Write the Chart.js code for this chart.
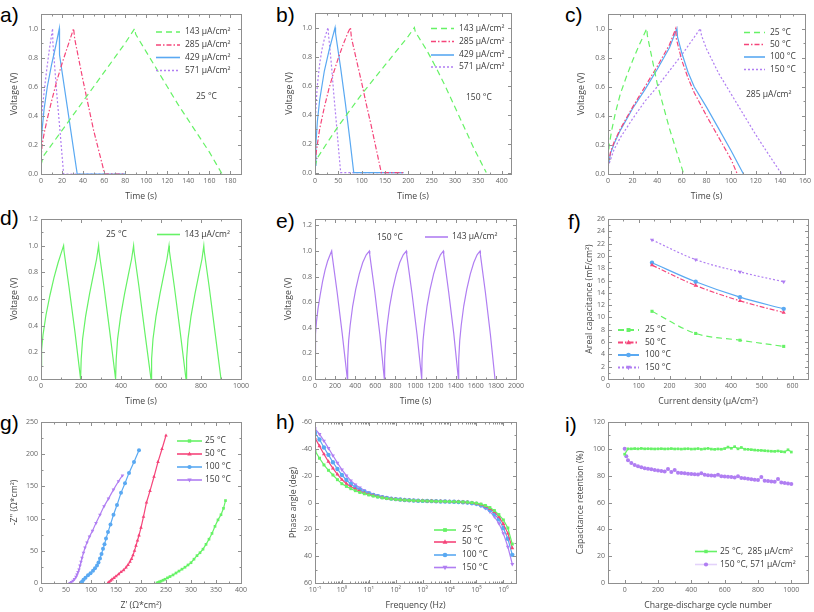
<!DOCTYPE html>
<html>
<head>
<meta charset="utf-8">
<script src="https://cdn.jsdelivr.net/npm/chart.js@4.4.1/dist/chart.umd.min.js"></script>
<style>
body { margin: 0; background: #fff; }
#fig { position: relative; width: 814px; height: 612px; overflow: hidden; }
#fig canvas { position: absolute; }
.lbl { position: absolute; font: 21px "Liberation Sans", Arial, sans-serif; line-height: 21px; color: #000; }
</style>
</head>
<body>
<div id="fig">
  <div class="lbl" style="left:0px;top:4px">a)</div>
  <div class="lbl" style="left:276px;top:4px">b)</div>
  <div class="lbl" style="left:565px;top:4px">c)</div>
  <div class="lbl" style="left:0px;top:207px">d)</div>
  <div class="lbl" style="left:276px;top:210px">e)</div>
  <div class="lbl" style="left:568px;top:211px">f)</div>
  <div class="lbl" style="left:0px;top:412px">g)</div>
  <div class="lbl" style="left:276px;top:411px">h)</div>
  <div class="lbl" style="left:565px;top:414px">i)</div>
</div>
<script>
// ---- a) 25 °C, different current densities
const a143t = [0, 2, 10, 20, 30, 40, 50, 60, 70, 80, 89, 90, 100, 110, 120, 130, 140, 150, 160, 172];
const a143v = [0.06, 0.12, 0.2, 0.3, 0.4, 0.5, 0.6, 0.7, 0.8, 0.9, 1.0, 0.96, 0.84, 0.72, 0.6, 0.48, 0.37, 0.26, 0.15, 0];
const a285t = [0, 1, 3, 6, 10, 15, 20, 25, 31, 32, 40, 50, 60.5, 80];
const a285v = [0.1, 0.2, 0.28, 0.38, 0.5, 0.64, 0.76, 0.87, 1.0, 0.93, 0.64, 0.3, 0, 0];
const a429t = [0, 1, 3, 6, 10, 14, 17.4, 17.6, 25, 34.4, 80];
const a429v = [0.15, 0.3, 0.45, 0.6, 0.75, 0.88, 1.0, 0.82, 0.46, 0, 0];
const a571t = [0, 2, 4, 6, 8, 11, 11.3, 15, 18, 21.5, 80];
const a571v = [0.35, 0.5, 0.63, 0.75, 0.86, 1.0, 0.9, 0.55, 0.3, 0, 0];

// ---- b) 150 °C
const b143t = [0, 5, 25, 50, 75, 100, 125, 150, 175, 200, 213, 215, 240, 260, 280, 300, 320, 340, 367];
const b143v = [0.04, 0.1, 0.2, 0.32, 0.43, 0.54, 0.64, 0.74, 0.84, 0.94, 1.0, 0.97, 0.84, 0.72, 0.59, 0.45, 0.31, 0.17, 0];
const b285t = [0, 3, 10, 20, 30, 40, 50, 60, 70, 76, 78, 90, 100, 110, 120, 130, 142, 190];
const b285v = [0.05, 0.15, 0.3, 0.45, 0.58, 0.69, 0.79, 0.88, 0.96, 1.0, 0.93, 0.76, 0.62, 0.47, 0.33, 0.18, 0, 0];
const b429t = [0, 2, 5, 10, 20, 30, 43, 44, 55, 65, 75, 83, 190];
const b429v = [0.05, 0.2, 0.35, 0.5, 0.7, 0.84, 1.0, 0.96, 0.72, 0.48, 0.22, 0, 0];
const b571t = [0, 2, 5, 10, 15, 20, 28, 29, 35, 40, 45, 50, 55, 190];
const b571v = [0.3, 0.45, 0.6, 0.75, 0.85, 0.92, 1.0, 0.95, 0.75, 0.55, 0.37, 0.18, 0, 0];

// ---- c) 285 µA/cm², temperatures
const c25t = [0, 1, 3, 6, 10, 15, 20, 25, 31.5, 32, 40, 50, 61.5];
const c25v = [0.1, 0.2, 0.3, 0.42, 0.55, 0.67, 0.78, 0.88, 1.0, 0.95, 0.62, 0.31, 0];
const c50t = [0, 2, 5, 10, 20, 30, 40, 50, 55, 55.5, 60, 65, 70, 80, 90, 100, 105];
const c50v = [0.05, 0.15, 0.22, 0.31, 0.46, 0.6, 0.74, 0.89, 1.0, 0.93, 0.78, 0.66, 0.56, 0.4, 0.25, 0.1, 0];
const c100t = [0, 2, 5, 10, 20, 30, 40, 50, 56, 56.5, 60, 65, 70, 80, 90, 100, 110];
const c100v = [0.05, 0.14, 0.21, 0.3, 0.45, 0.58, 0.72, 0.87, 1.0, 0.94, 0.83, 0.7, 0.6, 0.46, 0.31, 0.16, 0];
const c150t = [0, 5, 10, 20, 30, 40, 50, 60, 70, 75, 76, 80, 90, 100, 110, 120, 130, 141];
const c150v = [0.05, 0.17, 0.25, 0.38, 0.5, 0.6, 0.71, 0.82, 0.94, 1.0, 0.95, 0.86, 0.69, 0.55, 0.41, 0.27, 0.14, 0];

// ---- d) 5 cycles, 25 °C
const dTime = [0, 3, 10, 25, 45, 65, 85, 100, 113, 115, 140, 170, 198,
  201, 208, 223, 243, 263, 278, 288, 290, 315, 345, 373,
  376, 383, 398, 418, 438, 453, 463, 465, 490, 520, 550,
  553, 560, 575, 595, 615, 630, 640, 642, 667, 697, 725,
  728, 735, 750, 770, 790, 805, 814, 816, 841, 871, 900];
const dVolt = [0.1, 0.22, 0.33, 0.48, 0.63, 0.76, 0.87, 0.94, 1.0, 0.96, 0.69, 0.35, 0,
  0.15, 0.3, 0.47, 0.64, 0.79, 0.9, 1.0, 0.96, 0.69, 0.34, 0,
  0.15, 0.3, 0.47, 0.64, 0.79, 0.9, 1.0, 0.96, 0.69, 0.34, 0,
  0.15, 0.3, 0.47, 0.64, 0.79, 0.9, 1.0, 0.96, 0.69, 0.34, 0,
  0.15, 0.3, 0.47, 0.64, 0.79, 0.9, 1.0, 0.96, 0.69, 0.34, 0];

// ---- e) 5 cycles, 150 °C
const eTime = [0, 5, 15, 30, 50, 75, 100, 125, 150, 166, 170, 220, 270, 322,
  325, 335, 350, 375, 405, 440, 475, 510, 541, 545, 595, 645, 690,
  693, 703, 718, 743, 773, 808, 843, 878, 909, 913, 965, 1015, 1062,
  1065, 1075, 1090, 1115, 1145, 1180, 1215, 1248, 1277, 1281, 1330, 1380, 1427,
  1430, 1440, 1455, 1480, 1510, 1545, 1580, 1613, 1642, 1646, 1695, 1745, 1791];
const eVolt = [0.2, 0.35, 0.45, 0.55, 0.65, 0.76, 0.85, 0.92, 0.97, 1.0, 0.97, 0.68, 0.36, 0,
  0.15, 0.3, 0.42, 0.57, 0.7, 0.82, 0.91, 0.97, 1.0, 0.97, 0.68, 0.35, 0,
  0.15, 0.3, 0.42, 0.57, 0.7, 0.82, 0.91, 0.97, 1.0, 0.97, 0.67, 0.35, 0,
  0.15, 0.3, 0.42, 0.57, 0.7, 0.82, 0.91, 0.97, 1.0, 0.97, 0.68, 0.36, 0,
  0.15, 0.3, 0.42, 0.57, 0.7, 0.82, 0.91, 0.97, 1.0, 0.97, 0.68, 0.35, 0];

// ---- f) areal capacitance
const fCurrent = [143, 285, 429, 571];
const f25 = [11.0, 7.4, 6.3, 5.3];
const f50 = [18.5, 15.2, 12.7, 10.8];
const f100 = [18.9, 15.8, 13.3, 11.4];
const f150 = [22.6, 19.4, 17.4, 15.8];

// ---- g) Nyquist
const g25x = [232, 234, 237, 240, 244, 248, 253, 258, 264, 270, 276, 282, 288, 294, 300, 306, 312, 318, 324, 330, 336, 342, 348, 354, 360, 365, 369];
const g25y = [0, 0.8, 1.8, 2.8, 4.3, 5.8, 8, 10, 12.5, 15.5, 18.5, 21.5, 24.5, 28, 31.5, 37, 42.5, 47, 52.5, 60, 68, 77, 88, 98, 106, 116, 128];
const g50x = [134, 136, 139, 142, 146, 150, 155, 160, 165, 170, 174, 178, 181, 184, 187, 190, 193, 196, 200, 205, 211, 218, 226, 234, 242, 250];
const g50y = [0, 1.5, 3.5, 5.5, 8, 10.5, 13.5, 17, 20, 24, 28, 33, 37.5, 43, 50, 58, 66, 74, 86, 103, 125, 143, 165, 188, 208, 229];
const g100x = [80, 82, 85, 89, 94, 99, 104, 108, 112, 115, 118, 121, 124, 127, 130, 134, 139, 145, 152, 160, 168, 176, 186, 196];
const g100y = [0, 2, 5, 8, 12, 15, 19, 23, 27, 32, 38, 45, 53, 60, 69, 79, 91, 106, 121, 140, 155, 171, 188, 206];
const g150x = [58, 61, 64, 67, 70, 72, 74, 76, 78, 80, 82, 85, 88, 92, 97, 103, 110, 118, 126, 135, 145, 155, 163];
const g150y = [0, 1.5, 3.5, 6, 9.5, 13, 17, 21, 27, 33, 39, 47, 55, 63, 72, 81, 93, 106, 119, 131, 145, 158, 167];

// ---- h) Bode phase
const hFreq = [0.1, 0.147, 0.215, 0.316, 0.464, 0.681, 1, 1.47, 2.15, 3.16, 4.64, 6.81,
  10, 14.7, 21.5, 31.6, 46.4, 68.1, 100, 147, 215, 316, 464, 681,
  1e3, 1.47e3, 2.15e3, 3.16e3, 4.64e3, 6.81e3, 1e4, 1.47e4, 2.15e4, 3.16e4, 4.64e4, 6.81e4,
  1e5, 1.47e5, 2.15e5, 3.16e5, 4.64e5, 6.81e5, 1e6, 1.47e6, 2.15e6];
const h25 = [-38.5, -33, -28, -24, -20.5, -17, -14, -12, -10.3, -8.8, -7.5, -6.5,
  -5.6, -4.8, -4.1, -3.5, -3.0, -2.6, -2.3, -2.0, -1.8, -1.6, -1.4, -1.3,
  -1.2, -1.1, -1.0, -0.9, -0.85, -0.8, -0.7, -0.6, -0.5, -0.4, -0.2, 0.1,
  0.5, 1.2, 2.2, 3.8, 6, 9, 13, 19, 31];
const h50 = [-48, -42, -36, -30.5, -25.5, -21, -17, -14, -11.8, -10, -8.4, -7.1,
  -6.0, -5.1, -4.3, -3.7, -3.1, -2.7, -2.4, -2.1, -1.8, -1.6, -1.4, -1.3,
  -1.2, -1.1, -1.0, -0.9, -0.85, -0.8, -0.7, -0.6, -0.45, -0.3, -0.1, 0.3,
  0.8, 1.6, 2.8, 4.5, 7, 10.5, 16, 23, 34];
const h100 = [-52, -47, -41, -35.5, -30, -25, -20.5, -16.8, -13.8, -11.4, -9.5, -8,
  -6.7, -5.6, -4.7, -4.0, -3.4, -2.9, -2.5, -2.2, -1.9, -1.7, -1.5, -1.3,
  -1.2, -1.1, -1.0, -0.9, -0.8, -0.75, -0.65, -0.55, -0.4, -0.2, 0, 0.5,
  1, 2, 3.5, 5.5, 8.5, 12.5, 19, 27, 39];
const h150 = [-55, -51, -46, -40.5, -35, -29.5, -24.5, -20, -16.3, -13.3, -11, -9.1,
  -7.6, -6.3, -5.2, -4.4, -3.7, -3.1, -2.7, -2.3, -2.0, -1.8, -1.6, -1.4,
  -1.3, -1.2, -1.1, -1.0, -0.9, -0.8, -0.7, -0.55, -0.4, -0.15, 0.1, 0.7,
  1.3, 2.6, 4.3, 6.8, 10.5, 15.5, 23, 33, 46];

// ---- i) cycling retention
const iCycG = [0, 20, 40, 60, 80, 100, 120, 140, 160, 180, 200, 220, 240, 260, 280, 300, 320, 340, 360, 380,
  400, 420, 440, 460, 480, 500, 520, 540, 560, 580, 600, 620, 640, 660, 680, 700, 720, 740, 760, 780,
  800, 820, 840, 860, 880, 900, 920, 940, 960, 980, 1000];
const iRetG = [96, 100, 100, 100.2, 100, 100.3, 100, 100.1, 100, 99.9, 100, 100.1, 99.9, 100, 100.2, 99.9, 100, 99.8, 100, 100.1,
  99.8, 99.9, 100.2, 99.7, 100, 100.3, 99.8, 99.6, 99.9, 99.7, 100.2, 101.3, 100.4, 101.6, 100, 101, 99.7, 99.6, 99.4, 99.1,
  98.9, 98.8, 98.6, 98.4, 98.2, 98.1, 98.4, 97.9, 97.7, 99.3, 97.6];
const iCycV = [0, 10, 20, 40, 60, 80, 100, 120, 140, 160, 180, 200, 220, 240, 260, 280, 300, 320, 340, 360, 380,
  400, 420, 440, 460, 480, 500, 520, 540, 560, 580, 600, 620, 640, 660, 680, 700, 720, 740, 760, 780,
  800, 820, 840, 860, 880, 900, 920, 940, 960, 980, 1000];
const iRetV = [100, 94.5, 91.5, 89.5, 88, 87, 86.3, 85.6, 85.1, 84.7, 84.2, 83.8, 83.4, 83.1, 85, 82.7, 84.3, 82.2, 82, 81.8, 81.5,
  81.2, 81, 80.8, 81.8, 80.6, 80.3, 80.1, 79.9, 80.6, 79.6, 79.4, 79.2, 79, 78.7, 79.6, 78.3, 78, 77.7, 77.3, 77,
  76.7, 79, 76.3, 76, 75.7, 75.4, 77.5, 75, 74.6, 74.2, 73.8];

// ---- tick values
const ticksA = [0, 20, 40, 60, 80, 100, 120, 140, 160, 180];
const ticksB = [0, 50, 100, 150, 200, 250, 300, 350, 400];
const ticksC = [0, 20, 40, 60, 80, 100, 120, 140, 160];
const ticksD = [0, 200, 400, 600, 800, 1000];
const ticksE = [0, 200, 400, 600, 800, 1000, 1200, 1400, 1600, 1800, 2000];
const ticksF = [0, 100, 200, 300, 400, 500, 600];
const ticksG = [0, 50, 100, 150, 200, 250, 300, 350, 400];
const ticksH = [0.1, 1, 10, 100, 1e3, 1e4, 1e5, 1e6];
const ticksI = [0, 200, 400, 600, 800, 1000];
const voltTicks = [0, 0.2, 0.4, 0.6, 0.8, 1.0];
const voltTicks12 = [0, 0.2, 0.4, 0.6, 0.8, 1.0, 1.2];
const capTicks = [0, 2, 4, 6, 8, 10, 12, 14, 16, 18, 20, 22, 24, 26];
const zTicks = [0, 50, 100, 150, 200, 250];
const phaseTicks = [-60, -40, -20, 0, 20, 40, 60];
const retTicks = [0, 20, 40, 60, 80, 100, 120];

const G = '#66f266', P = '#f5457a', B = '#5aa9f2', V = '#b07ef2';
const DASH143 = [6, 4], DASH285 = [5, 2, 1.5, 2], DASH571 = [2, 2];
const FONT = '"Open Sans", sans-serif';
const TICK_SIZE = 7, TITLE_SIZE = 8.7, LEG_SIZE = 8.5;
Chart.defaults.font.family = FONT;

function series(label, xs, ys, color, dash, extra) {
  return Object.assign({
    label: label,
    data: xs.map((x, i) => ({ x: x, y: ys[i] })),
    showLine: true, borderColor: color, backgroundColor: color,
    borderWidth: 1.2, borderDash: dash, pointRadius: 0, pointBorderWidth: 0, tension: 0
  }, extra || {});
}

function drawMarker(ctx, style, rot, x, y, r, color) {
  ctx.fillStyle = color;
  ctx.beginPath();
  if (style === 'rect') {
    ctx.rect(x - r * 0.85, y - r * 0.85, r * 1.7, r * 1.7);
  } else if (style === 'triangle') {
    const s = rot ? -1 : 1;
    ctx.moveTo(x, y - s * r * 1.1);
    ctx.lineTo(x + r, y + s * r * 0.7);
    ctx.lineTo(x - r, y + s * r * 0.7);
    ctx.closePath();
  } else {
    ctx.arc(x, y, r, 0, Math.PI * 2);
  }
  ctx.fill();
}

const framePlugin = {
  id: 'frame',
  afterDatasetsDraw(chart) {
    const { ctx, chartArea: a, scales } = chart;
    ctx.save();
    ctx.strokeStyle = '#8f8f8f';
    ctx.lineWidth = 1;
    const l = Math.round(a.left) + 0.5, t = Math.round(a.top) + 0.5;
    const r = Math.round(a.right) + 0.5, b = Math.round(a.bottom) + 0.5;
    ctx.strokeRect(l, t, r - l, b - t);
    const marks = (s) => {
      const major = s.ticks.map(k => k.value);
      let minor = [];
      if (s.type === 'logarithmic') {
        for (let e = -2; e <= 7; e++) for (let k = 2; k <= 9; k++) minor.push(k * Math.pow(10, e));
      } else {
        const step = major[1] - major[0];
        for (let v = major[0] - step / 2; v <= major[major.length - 1] + step; v += step) minor.push(v);
      }
      minor = minor.filter(v => v >= Math.min(s.min, s.max) && v <= Math.max(s.min, s.max));
      return { major, minor };
    };
    ctx.beginPath();
    const mx = marks(scales.x);
    [[mx.major, 3.5], [mx.minor, 2]].forEach(([vals, len]) => vals.forEach(v => {
      const px = Math.round(scales.x.getPixelForValue(v)) + 0.5;
      ctx.moveTo(px, b); ctx.lineTo(px, b - len);
      ctx.moveTo(px, t); ctx.lineTo(px, t + len);
    }));
    const my = marks(scales.y);
    [[my.major, 3.5], [my.minor, 2]].forEach(([vals, len]) => vals.forEach(v => {
      const py = Math.round(scales.y.getPixelForValue(v)) + 0.5;
      ctx.moveTo(l, py); ctx.lineTo(l + len, py);
      ctx.moveTo(r, py); ctx.lineTo(r - len, py);
    }));
    ctx.stroke();
    ctx.restore();
  }
};

const legendPlugin = {
  id: 'panelLegend',
  afterDraw(chart, args, o) {
    if (!o || !o.ys) return;
    const ctx = chart.ctx;
    ctx.save();
    o.ys.forEach((yy, i) => {
      const ds = chart.data.datasets[i];
      const y = yy - o.oy, x1 = o.x1 - o.ox, x2 = o.x2 - o.ox;
      ctx.strokeStyle = ds.borderColor;
      ctx.lineWidth = o.lw || 1.6;
      ctx.setLineDash(ds.borderDash || []);
      ctx.beginPath(); ctx.moveTo(x1, y); ctx.lineTo(x2, y); ctx.stroke();
      ctx.setLineDash([]);
      if (ds.pointRadius > 0) {
        drawMarker(ctx, ds.pointStyle, ds.pointRotation, (x1 + x2) / 2, y, ds.pointRadius * 1.05, ds.backgroundColor);
      }
      ctx.fillStyle = '#3a3a3a';
      ctx.font = LEG_SIZE + 'px ' + FONT;
      ctx.textBaseline = 'middle';
      ctx.textAlign = 'left';
      ctx.fillText(ds.label, o.tx - o.ox, y);
    });
    ctx.restore();
  }
};

const notesPlugin = {
  id: 'notes',
  afterDraw(chart, args, o) {
    if (!o || !o.items) return;
    const ctx = chart.ctx;
    ctx.save();
    ctx.fillStyle = '#3a3a3a';
    ctx.font = LEG_SIZE + 'px ' + FONT;
    ctx.textBaseline = 'middle';
    ctx.textAlign = 'left';
    o.items.forEach(n => ctx.fillText(n.text, n.x - o.ox, n.y - o.oy));
    ctx.restore();
  }
};

const fix1 = v => Number(v).toFixed(1);
const plain = v => String(v);
const SUP = { '-': '\u207B', '0': '\u2070', '1': '\u00B9', '2': '\u00B2', '3': '\u00B3', '4': '\u2074', '5': '\u2075', '6': '\u2076' };
const pow10 = v => '10' + String(Math.round(Math.log10(v))).split('').map(c => SUP[c]).join('');

function makePanel(p) {
  const [cx, cy, cw, ch] = p.cell;
  const [L, T, R, Bt] = p.plot;
  const cv = document.createElement('canvas');
  cv.width = cw; cv.height = ch;
  cv.style.left = cx + 'px'; cv.style.top = cy + 'px';
  cv.style.width = cw + 'px'; cv.style.height = ch + 'px';
  document.getElementById('fig').appendChild(cv);
  const lh = TITLE_SIZE * 1.2;
  const xo = p.x, yo = p.y;
  new Chart(cv, {
    type: 'scatter',
    data: { datasets: p.datasets },
    options: {
      responsive: false, animation: false, events: [],
      layout: { padding: { left: 0, top: T - cy, right: cx + cw - R, bottom: 0 } },
      plugins: {
        legend: { display: false }, tooltip: { enabled: false },
        panelLegend: Object.assign({ ox: cx, oy: cy }, p.legend),
        notes: { ox: cx, oy: cy, items: p.notes || [] }
      },
      scales: {
        x: {
          type: xo.type || 'linear', min: xo.min, max: xo.max,
          afterBuildTicks: s => { s.ticks = xo.ticks.map(v => ({ value: v })); },
          afterFit: s => { s.height = cy + ch - Bt; },
          ticks: { autoSkip: false, maxRotation: 0, minRotation: 0, padding: 3, font: { size: TICK_SIZE }, color: '#666', callback: xo.fmt },
          grid: { display: false, drawTicks: false }, border: { display: false },
          title: { display: true, text: xo.title, color: '#444', font: { size: TITLE_SIZE }, padding: { top: 0, bottom: cy + ch - xo.titleY - lh / 2 } }
        },
        y: {
          type: 'linear', min: yo.min, max: yo.max, reverse: !!yo.reverse,
          afterBuildTicks: s => { s.ticks = yo.ticks.map(v => ({ value: v })); },
          afterFit: s => { s.width = L - cx; },
          ticks: { autoSkip: false, padding: 3, font: { size: TICK_SIZE }, color: '#666', callback: yo.fmt },
          grid: { display: false, drawTicks: false }, border: { display: false },
          title: { display: true, text: yo.title, color: '#444', font: { size: TITLE_SIZE }, padding: { top: yo.titleX - cx - lh / 2, bottom: 0 } }
        }
      }
    },
    plugins: [framePlugin, legendPlugin, notesPlugin]
  });
}

const UA = ' \u00B5A/cm\u00B2';
const tempMarks = (style, rot, r) => ({ pointRadius: r, pointStyle: style, pointRotation: rot ? 180 : 0 });

// a)
makePanel({
  cell: [0, 0, 271, 205], plot: [41, 14, 241, 174],
  x: { min: 0, max: 190, ticks: ticksA, fmt: plain, title: 'Time (s)', titleY: 197 },
  y: { min: 0, max: 1.1, ticks: voltTicks, fmt: fix1, title: 'Voltage (V)', titleX: 15 },
  datasets: [
    series('143' + UA, a143t, a143v, G, DASH143),
    series('285' + UA, a285t, a285v, P, DASH285),
    series('429' + UA, a429t, a429v, B, []),
    series('571' + UA, a571t, a571v, V, DASH571)
  ],
  legend: { x1: 156, x2: 180, tx: 185, ys: [32, 45, 57.5, 70.5] },
  notes: [{ text: '25 \u00B0C', x: 196, y: 97 }]
});

// b)
makePanel({
  cell: [271, 0, 271, 205], plot: [315, 13, 511, 174],
  x: { min: 0, max: 420, ticks: ticksB, fmt: plain, title: 'Time (s)', titleY: 197 },
  y: { min: -0.01, max: 1.1, ticks: voltTicks, fmt: fix1, title: 'Voltage (V)', titleX: 290 },
  datasets: [
    series('143' + UA, b143t, b143v, G, DASH143),
    series('285' + UA, b285t, b285v, P, DASH285),
    series('429' + UA, b429t, b429v, B, []),
    series('571' + UA, b571t, b571v, V, DASH571)
  ],
  legend: { x1: 431, x2: 454, tx: 459, ys: [28.5, 41.5, 55, 67] },
  notes: [{ text: '150 \u00B0C', x: 466, y: 98 }]
});

// c)
makePanel({
  cell: [542, 0, 272, 205], plot: [608, 14, 807, 174],
  x: { min: 0, max: 160, ticks: ticksC, fmt: plain, title: 'Time (s)', titleY: 197 },
  y: { min: 0, max: 1.1, ticks: voltTicks, fmt: fix1, title: 'Voltage (V)', titleX: 582 },
  datasets: [
    series('25 \u00B0C', c25t, c25v, G, DASH143),
    series('50 \u00B0C', c50t, c50v, P, DASH285),
    series('100 \u00B0C', c100t, c100v, B, []),
    series('150 \u00B0C', c150t, c150v, V, DASH571)
  ],
  legend: { x1: 744, x2: 765, tx: 770, ys: [32.5, 44.5, 57, 69.5] },
  notes: [{ text: '285' + UA, x: 746, y: 95 }]
});

// d)
makePanel({
  cell: [0, 205, 271, 205], plot: [41, 219, 241, 379],
  x: { min: 0, max: 1000, ticks: ticksD, fmt: plain, title: 'Time (s)', titleY: 402 },
  y: { min: 0, max: 1.2, ticks: voltTicks12, fmt: fix1, title: 'Voltage (V)', titleX: 15 },
  datasets: [series('143' + UA, dTime, dVolt, G, [])],
  legend: { x1: 157, x2: 180, tx: 184.5, ys: [234.5] },
  notes: [{ text: '25 \u00B0C', x: 106, y: 234.5 }]
});

// e)
makePanel({
  cell: [271, 205, 271, 205], plot: [315, 219, 516, 379],
  x: { min: 0, max: 2000, ticks: ticksE, fmt: plain, title: 'Time (s)', titleY: 402 },
  y: { min: 0, max: 1.25, ticks: voltTicks12, fmt: fix1, title: 'Voltage (V)', titleX: 289 },
  datasets: [series('143' + UA, eTime, eVolt, V, [])],
  legend: { x1: 425, x2: 448, tx: 452, ys: [237] },
  notes: [{ text: '150 \u00B0C', x: 377, y: 238 }]
});

// f)
makePanel({
  cell: [542, 205, 272, 205], plot: [608, 219, 808, 379],
  x: { min: 0, max: 650, ticks: ticksF, fmt: plain, title: 'Current density (\u00B5A/cm\u00B2)', titleY: 402 },
  y: { min: 0, max: 26, ticks: capTicks, fmt: plain, title: 'Areal capacitance (mF/cm\u00B2)', titleX: 590 },
  datasets: [
    series('25 \u00B0C', fCurrent, f25, G, DASH143, Object.assign({ tension: 0.35 }, tempMarks('rect', false, 2.2))),
    series('50 \u00B0C', fCurrent, f50, P, DASH285, Object.assign({ tension: 0.35 }, tempMarks('triangle', false, 2.4))),
    series('100 \u00B0C', fCurrent, f100, B, [], Object.assign({ tension: 0.35 }, tempMarks('circle', false, 2.2))),
    series('150 \u00B0C', fCurrent, f150, V, DASH571, Object.assign({ tension: 0.35 }, tempMarks('triangle', true, 2.4)))
  ],
  legend: { x1: 618, x2: 639, tx: 645, ys: [330, 342.5, 355, 367.5], lw: 2 }
});

// g)
makePanel({
  cell: [0, 405, 271, 207], plot: [41, 422, 241, 583],
  x: { min: 0, max: 400, ticks: ticksG, fmt: plain, title: "Z' (\u03A9*cm\u00B2)", titleY: 606 },
  y: { min: 0, max: 250, ticks: zTicks, fmt: plain, title: "-Z'' (\u03A9*cm\u00B2)", titleX: 15 },
  datasets: [
    series('25 \u00B0C', g25x, g25y, G, [], tempMarks('rect', false, 1.9)),
    series('50 \u00B0C', g50x, g50y, P, [], tempMarks('triangle', false, 2.1)),
    series('100 \u00B0C', g100x, g100y, B, [], tempMarks('circle', false, 2)),
    series('150 \u00B0C', g150x, g150y, V, [], tempMarks('triangle', true, 2.1))
  ],
  legend: { x1: 177, x2: 202, tx: 205, ys: [441, 454, 467, 480] }
});

// h)
makePanel({
  cell: [271, 405, 271, 207], plot: [315, 422, 516, 583],
  x: { type: 'logarithmic', min: 0.1, max: 2.95e6, ticks: ticksH, fmt: pow10, title: 'Frequency (Hz)', titleY: 606 },
  y: { min: -60, max: 60, reverse: true, ticks: phaseTicks, fmt: plain, title: 'Phase angle (deg)', titleX: 293.5 },
  datasets: [
    series('25 \u00B0C', hFreq, h25, G, [], tempMarks('rect', false, 2.1)),
    series('50 \u00B0C', hFreq, h50, P, [], tempMarks('triangle', false, 2.3)),
    series('100 \u00B0C', hFreq, h100, B, [], tempMarks('circle', false, 2.2)),
    series('150 \u00B0C', hFreq, h150, V, [], tempMarks('triangle', true, 2.3))
  ],
  legend: { x1: 434, x2: 456, tx: 462, ys: [530, 542, 555, 567.5] }
});

// i)
makePanel({
  cell: [542, 405, 272, 207], plot: [608, 422, 808, 583],
  x: { min: -100, max: 1100, ticks: ticksI, fmt: plain, title: 'Charge-discharge cycle number', titleY: 606 },
  y: { min: 0, max: 120, ticks: retTicks, fmt: plain, title: 'Capacitance retention (%)', titleX: 581 },
  datasets: [
    series('25 \u00B0C,  285' + UA, iCycG, iRetG, G, [], tempMarks('rect', false, 1.9)),
    series('150 \u00B0C, 571' + UA, iCycV, iRetV, 'rgba(176,126,242,0.35)', [], Object.assign({ backgroundColor: V }, tempMarks('circle', false, 2)))
  ],
  legend: { x1: 695, x2: 717, tx: 720, ys: [551.5, 564.5] }
});
</script>
</body>
</html>
